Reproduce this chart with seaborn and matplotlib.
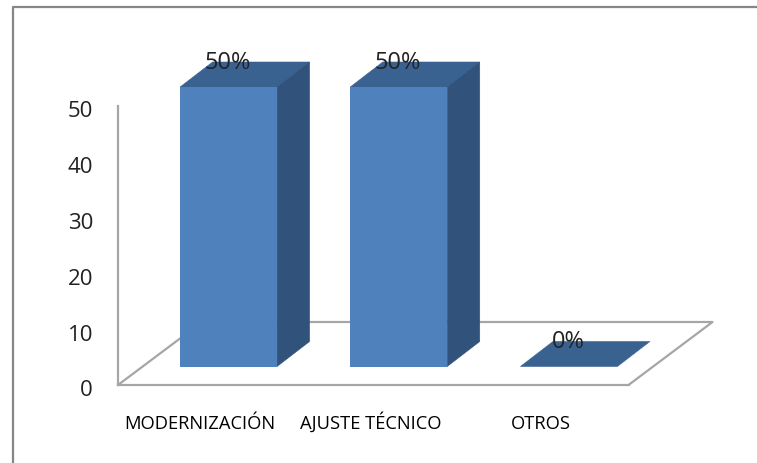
import numpy as np
import pandas as pd
import matplotlib
matplotlib.use("Agg")
import matplotlib.pyplot as plt
from matplotlib.lines import Line2D
from matplotlib.patches import Polygon
from matplotlib.transforms import ScaledTranslation
import seaborn as sns

categories = ["MODERNIZACIÓN", "AJUSTE TÉCNICO", "OTROS"]
values = [50, 50, 0]
value_labels = ["50%", "50%", "0%"]
y_ticks = [0, 10, 20, 30, 40, 50]

W, H = 757, 464
FRONT = "#4F81BD"
TOP = "#3A6291"
SIDE = "#30527B"
GRID = "#A6A6A6"

sns.set_theme(style="white")
plt.rcParams["font.family"] = ["Open Sans", "DejaVu Sans"]

fig = plt.figure(figsize=(W / 100, H / 100), dpi=100)
fig.patch.set_facecolor("white")

# Outer frame: only the top and left edges fall inside the crop
fig.add_artist(Line2D([12.5 / W, 12.5 / W, 1], [0, 1 - 7.5 / H, 1 - 7.5 / H],
                      transform=fig.transFigure, color="#868686", lw=1.6))


def px_axes(left, right, top, bottom):
    return fig.add_axes([left / W, 1 - bottom / H, (right - left) / W, (bottom - top) / H])


def offset(dx, dy):
    """Shift in screen pixels (dy positive = up)."""
    return ScaledTranslation(dx / fig.dpi, dy / fig.dpi, fig.dpi_scale_trans)


# Axis plane: floor front edge and vertical value axis
ax = px_axes(118, 628.5, 107, 386)
df = pd.DataFrame({"cat": categories, "val": values})
ax.set_xlim(-0.5, 2.5)
ax.set_ylim(0, 50)
ax.set_xticks(range(len(categories)))
ax.set_xticklabels(categories, fontsize=13.2, color="#000000", va="baseline")
ax.set_yticks(y_ticks)
ax.set_yticklabels([str(t) for t in y_ticks], fontsize=16, color="#222222")
ax.tick_params(axis="x", length=0, pad=30.9)
ax.tick_params(axis="y", length=0, pad=18)
for lab in ax.get_xticklabels():
    lab.set_transform(lab.get_transform() + offset(-3, 0))
for lab in ax.get_yticklabels():
    lab.set_transform(lab.get_transform() + offset(0, -2.5))
ax.patch.set_alpha(0)
for s in ["top", "right"]:
    ax.spines[s].set_visible(False)
for s in ["left", "bottom"]:
    ax.spines[s].set_color(GRID)
    ax.spines[s].set_linewidth(1.6)

# Back and right edges of the floor, in axis-fraction coordinates
depth_x, depth_y = 84 / 510.5, 63 / 279
ax.plot([0, depth_x, 1 + depth_x, 1], [0, depth_y, depth_y, 0],
        transform=ax.transAxes, color=GRID, lw=1.6, clip_on=False, zorder=1)

# Front plane of the columns, set in from the axis plane
bx = px_axes(118 + 25.5, 628.5 + 25.5, 88, 367.5)
sns.barplot(data=df, x="cat", y="val", ax=bx, color=FRONT, saturation=1,
            width=0.57, order=categories, zorder=3)
bx.set_xlim(-0.5, 2.5)
bx.set_ylim(0, 50)
bx.axis("off")
bx.patch.set_alpha(0)

DX, DY = 32.5, 25
back = bx.transData + offset(DX, DY)
for patch, label in zip(bx.patches, value_labels):
    x, w, h = patch.get_x(), patch.get_width(), patch.get_height()
    patch.set_edgecolor("none")
    # top face
    p0 = bx.transData.transform([(x, h), (x + w, h)])
    p1 = back.transform([(x + w, h), (x, h)])
    bx.add_patch(Polygon(np.vstack([p0, p1]), closed=True, transform=None,
                         fc=TOP, ec=TOP, lw=0.4, zorder=2, clip_on=False))
    # side face
    if h > 0:
        s0 = bx.transData.transform([(x + w, h), (x + w, 0)])
        s1 = back.transform([(x + w, 0), (x + w, h)])
        bx.add_patch(Polygon(np.vstack([s0, s1]), closed=True, transform=None,
                             fc=SIDE, ec=SIDE, lw=0.4, zorder=2, clip_on=False))
    # value label, baseline above the front top edge of the column
    bx.text(x + w / 2, h, label, fontsize=17, color="#222222", ha="center", va="baseline",
            transform=bx.transData + offset(-1, 19), zorder=10, clip_on=False)

fig.savefig("out.png", dpi=100, facecolor="white")
